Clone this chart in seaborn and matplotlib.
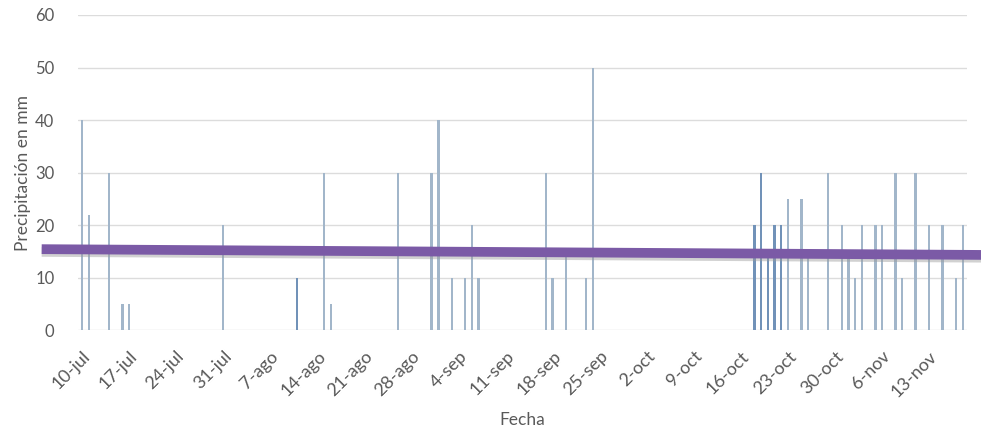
import matplotlib
matplotlib.use("Agg")
import matplotlib.pyplot as plt
import matplotlib.patheffects as pe
import seaborn as sns
import pandas as pd

# días con lluvia y precipitación (mm)
fechas = ["2017-07-10", "2017-07-11", "2017-07-14", "2017-07-16", "2017-07-17",
          "2017-07-31", "2017-08-11", "2017-08-15", "2017-08-16", "2017-08-26",
          "2017-08-31", "2017-09-01", "2017-09-03", "2017-09-05", "2017-09-06",
          "2017-09-07", "2017-09-17", "2017-09-18", "2017-09-20", "2017-09-23",
          "2017-09-24", "2017-10-18", "2017-10-19", "2017-10-20", "2017-10-21",
          "2017-10-22", "2017-10-23", "2017-10-25", "2017-10-26", "2017-10-29",
          "2017-10-31", "2017-11-01", "2017-11-02", "2017-11-03", "2017-11-05",
          "2017-11-06", "2017-11-08", "2017-11-09", "2017-11-11", "2017-11-13",
          "2017-11-15", "2017-11-17", "2017-11-18"]
lluvia_mm = [40, 22, 30, 5, 5,
             20, 10, 30, 5, 30,
             30, 40, 10, 10, 20,
             10, 30, 10, 15, 10,
             50, 20, 30, 15, 20,
             20, 25, 25, 14, 30,
             20, 14, 10, 20, 20,
             20, 30, 10, 30, 20,
             20, 10, 20]
# barras que se ven más oscuras en el original
fechas_oscuras = ["2017-08-11", "2017-10-18", "2017-10-19", "2017-10-20",
                  "2017-10-21", "2017-10-22"]

inicio = "2017-07-10"
fin = "2017-11-18"
etiquetas_x = ["10-jul", "17-jul", "24-jul", "31-jul", "7-ago", "14-ago", "21-ago",
               "28-ago", "4-sep", "11-sep", "18-sep", "25-sep", "2-oct", "9-oct",
               "16-oct", "23-oct", "30-oct", "6-nov", "13-nov"]

# línea de tendencia (extremos)
tendencia_fechas = ["2017-07-04", "2017-11-21"]
tendencia_mm = [15.4, 14.3]

t0 = pd.Timestamp(inicio)
dias = pd.date_range(inicio, fin, freq="D")
df = pd.DataFrame({"fecha": dias})
lluvia = pd.DataFrame({"fecha": pd.to_datetime(fechas), "mm": lluvia_mm})
df = df.merge(lluvia, on="fecha", how="left").fillna({"mm": 0})
df["dia"] = (df["fecha"] - t0).dt.days
df["tono"] = df["fecha"].isin(pd.to_datetime(fechas_oscuras)).map({True: "oscura", False: "normal"})

sns.set_style("white")
plt.rcParams["font.family"] = ["Lato", "DejaVu Sans"]

fig = plt.figure(figsize=(9.81, 4.36), dpi=100)
ax = fig.add_axes([0.0795, 0.2431, 0.906, 0.7225])

sns.barplot(data=df, x="dia", y="mm", hue="tono", native_scale=True, width=0.36,
            palette={"normal": "#a2b6ca", "oscura": "#7192b8"}, saturation=1,
            errorbar=None, dodge=False, legend=False, ax=ax, linewidth=0)

tx = [(pd.Timestamp(f) - t0).days for f in tendencia_fechas]
ax.plot(tx, tendencia_mm, color="#7b5aa6", lw=7, solid_capstyle="butt",
        clip_on=False, zorder=5,
        path_effects=[pe.SimpleLineShadow(offset=(0, -2), shadow_color="#9a9a9a", alpha=0.45),
                      pe.Normal()])

ax.set_ylim(0, 60)
ax.set_yticks(range(0, 61, 10))
ax.set_xlim(-0.6, df["dia"].max() + 0.6)
ax.set_xticks(range(0, 7 * len(etiquetas_x), 7))
ax.set_xticklabels(etiquetas_x, rotation=45, ha="right", rotation_mode="anchor")
ax.yaxis.grid(True, color="#dcdcdc", lw=1)
ax.set_axisbelow(True)
sns.despine(ax=ax, left=True, bottom=True)
ax.tick_params(axis="y", length=0, labelsize=12, colors="#595959", pad=17)
ax.tick_params(axis="x", length=0, labelsize=13, colors="#595959", pad=13)

ax.set_xlabel("Fecha", fontsize=12.5, color="#595959", labelpad=9)
ax.set_ylabel("Precipitación en mm", fontsize=12.5, color="#595959", labelpad=3)

fig.savefig("out.png", dpi=100)
